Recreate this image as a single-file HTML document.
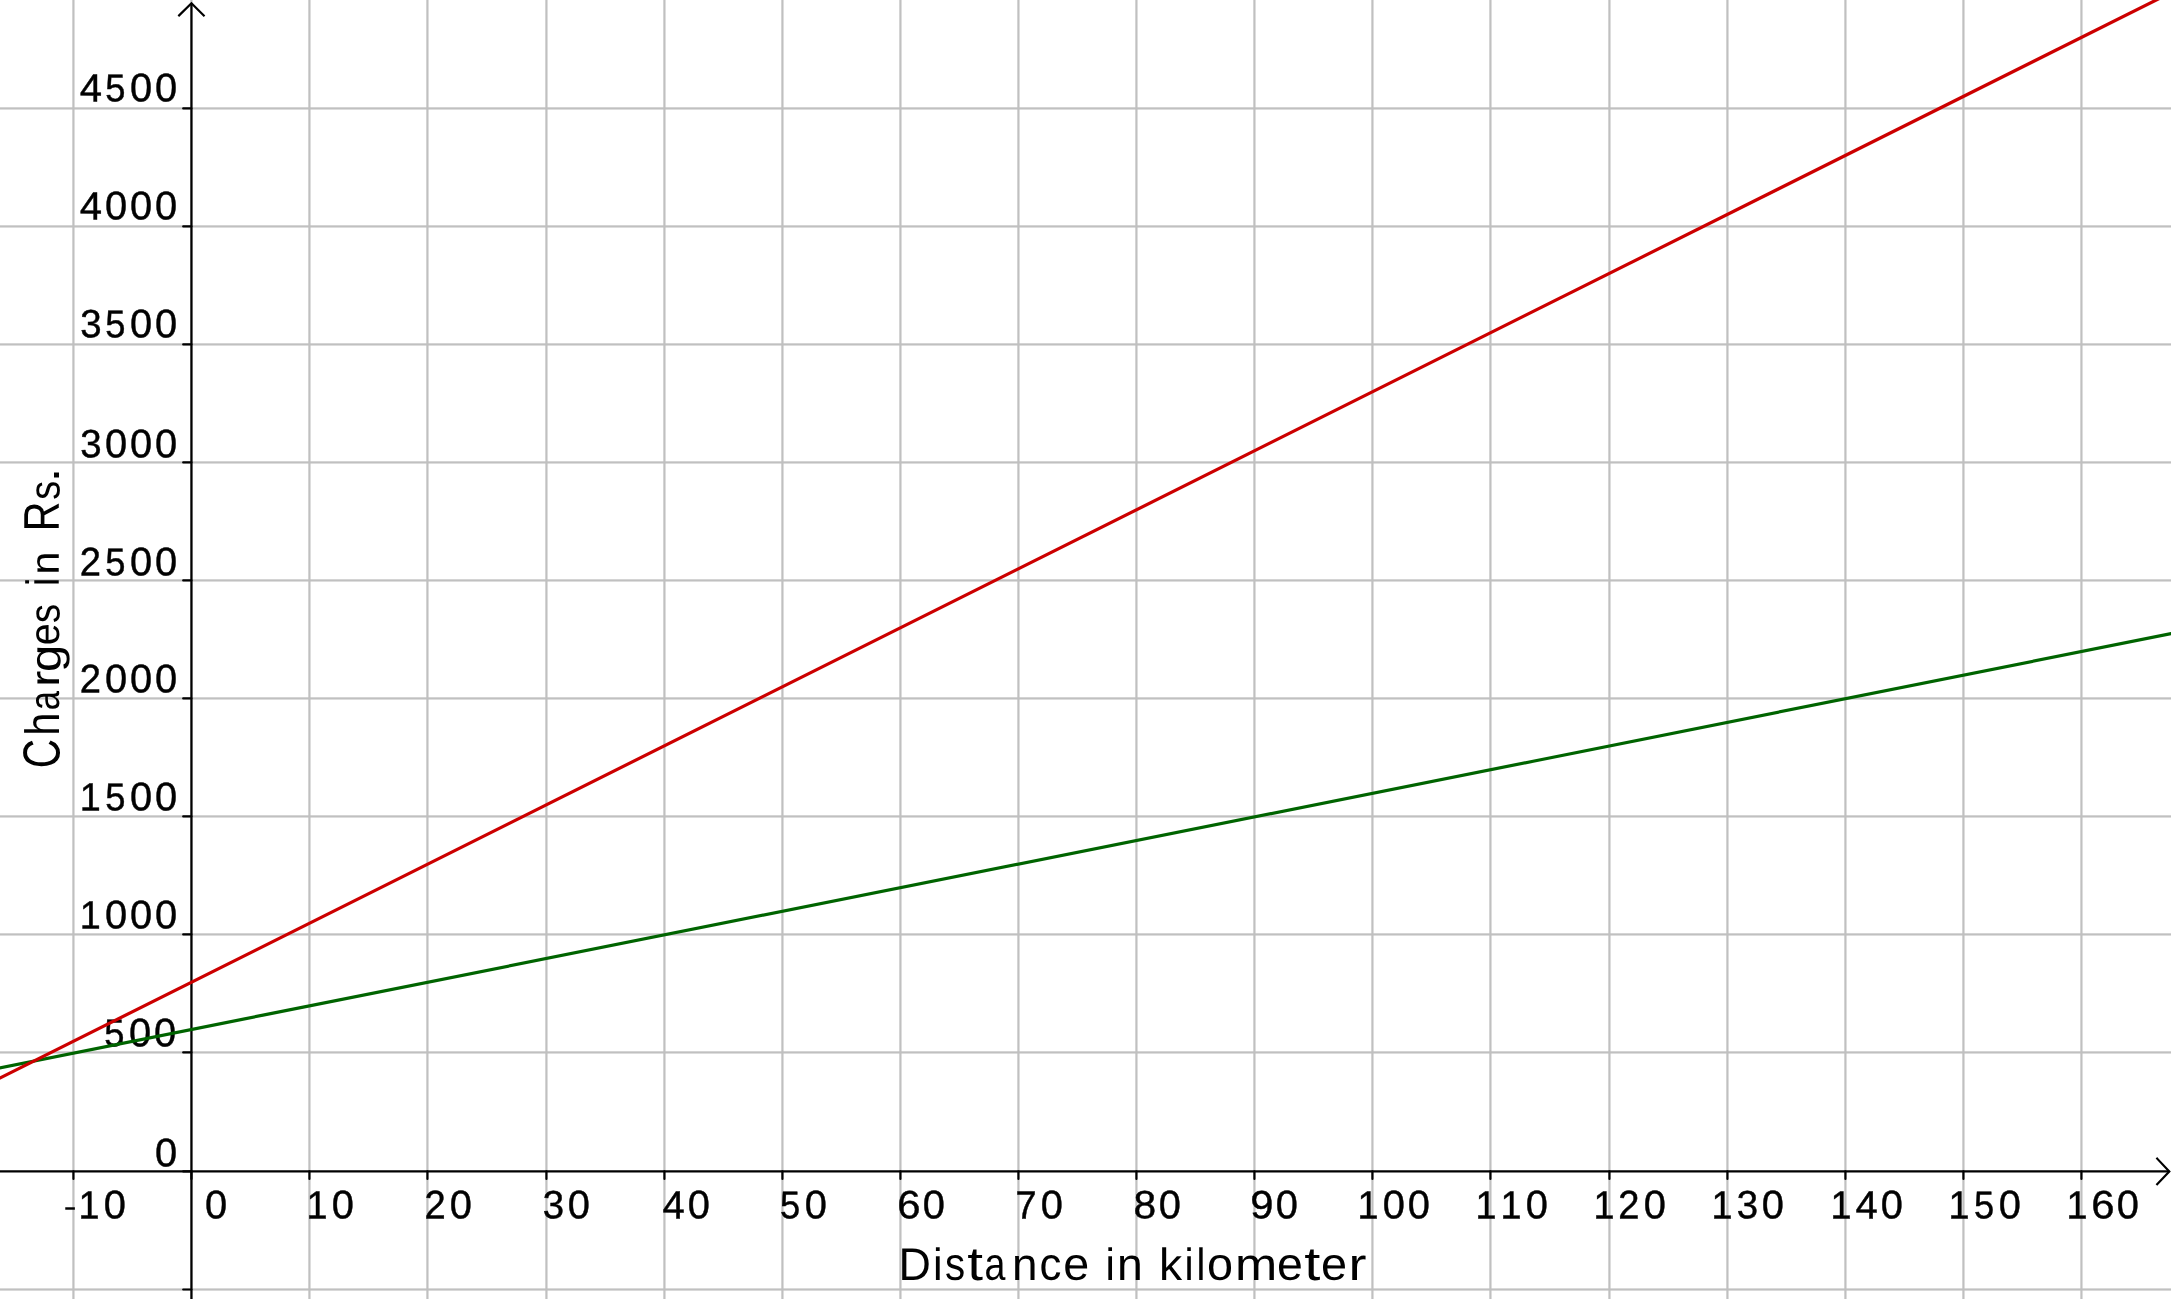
<!DOCTYPE html>
<html><head><meta charset="utf-8"><title>Graph</title>
<style>html,body{margin:0;padding:0;background:#fff;overflow:hidden}svg{display:block}</style>
</head><body>
<svg width="2171" height="1299" viewBox="0 0 2171 1299">
<rect width="2171" height="1299" fill="#fff"/>
<g fill="#c0c0c0">
<rect x="72.33" y="0" width="2.2" height="1299"/>
<rect x="190.33" y="0" width="2.2" height="1299"/>
<rect x="308.33" y="0" width="2.2" height="1299"/>
<rect x="426.33" y="0" width="2.2" height="1299"/>
<rect x="545.33" y="0" width="2.2" height="1299"/>
<rect x="663.33" y="0" width="2.2" height="1299"/>
<rect x="781.33" y="0" width="2.2" height="1299"/>
<rect x="899.33" y="0" width="2.2" height="1299"/>
<rect x="1017.33" y="0" width="2.2" height="1299"/>
<rect x="1135.33" y="0" width="2.2" height="1299"/>
<rect x="1253.33" y="0" width="2.2" height="1299"/>
<rect x="1371.33" y="0" width="2.2" height="1299"/>
<rect x="1489.33" y="0" width="2.2" height="1299"/>
<rect x="1608.33" y="0" width="2.2" height="1299"/>
<rect x="1726.33" y="0" width="2.2" height="1299"/>
<rect x="1844.33" y="0" width="2.2" height="1299"/>
<rect x="1962.33" y="0" width="2.2" height="1299"/>
<rect x="2080.33" y="0" width="2.2" height="1299"/>
<rect x="0" y="107.33" width="2171" height="2.2"/>
<rect x="0" y="225.33" width="2171" height="2.2"/>
<rect x="0" y="343.33" width="2171" height="2.2"/>
<rect x="0" y="461.33" width="2171" height="2.2"/>
<rect x="0" y="579.33" width="2171" height="2.2"/>
<rect x="0" y="697.33" width="2171" height="2.2"/>
<rect x="0" y="815.33" width="2171" height="2.2"/>
<rect x="0" y="933.33" width="2171" height="2.2"/>
<rect x="0" y="1051.33" width="2171" height="2.2"/>
<rect x="0" y="1288.4" width="2171" height="2.2"/>
</g>
<g stroke="#000" stroke-width="2.2" fill="none">
<path d="M191.45 1299 V3"/>
<path d="M179.15 15.4 L191.45 3.2 L203.75 15.4" stroke-linecap="square"/>
<path d="M0 1171.45 H2169.3" stroke-width="2.3"/>
<path d="M2157.2 1158.65 L2169.3 1171.45 L2157.2 1184.25" stroke-linecap="square"/>
<path d="M73.43 1171.45 v7.5 M191.43 1171.45 v7.5 M309.43 1171.45 v7.5 M427.43 1171.45 v7.5 M546.43 1171.45 v7.5 M664.43 1171.45 v7.5 M782.43 1171.45 v7.5 M900.43 1171.45 v7.5 M1018.43 1171.45 v7.5 M1136.43 1171.45 v7.5 M1254.43 1171.45 v7.5 M1372.43 1171.45 v7.5 M1490.43 1171.45 v7.5 M1609.43 1171.45 v7.5 M1727.43 1171.45 v7.5 M1845.43 1171.45 v7.5 M1963.43 1171.45 v7.5 M2081.43 1171.45 v7.5" stroke-linecap="round"/>
<path d="M191.45 108.43 h-8.25 M191.45 226.43 h-8.25 M191.45 344.43 h-8.25 M191.45 462.43 h-8.25 M191.45 580.43 h-8.25 M191.45 698.43 h-8.25 M191.45 816.43 h-8.25 M191.45 934.43 h-8.25 M191.45 1052.43 h-8.25 M191.45 1171.45 h-8.25 M191.45 1289.5 h-8.25" stroke-linecap="round"/>
</g>
<g font-family="'Liberation Sans', sans-serif" font-size="100" fill="#000" opacity="0.999" style="font-kerning:none;text-rendering:geometricPrecision">
<text transform="matrix(0.3781 0.001 0 0.3922 78.55 1218.56)" stroke="#000" stroke-width="1.17">1</text><text transform="matrix(0.3985 0.001 0 0.3980 103.83 1218.17)" stroke="#000" stroke-width="1.13">0</text><text transform="matrix(0.3944 0.001 0 0.3379 63.49 1217.45)">-</text>
<text transform="matrix(0.3985 0.001 0 0.3980 205.10 1218.17)" stroke="#000" stroke-width="1.13">0</text>
<text transform="matrix(0.3781 0.001 0 0.3922 306.49 1218.56)" stroke="#000" stroke-width="1.17">1</text><text transform="matrix(0.3985 0.001 0 0.3980 331.77 1218.17)" stroke="#000" stroke-width="1.13">0</text>
<text transform="matrix(0.3819 0.001 0 0.4014 424.40 1218.56)" stroke="#000" stroke-width="1.15">2</text><text transform="matrix(0.3985 0.001 0 0.3980 449.77 1218.17)" stroke="#000" stroke-width="1.13">0</text>
<text transform="matrix(0.3849 0.001 0 0.3959 542.86 1218.17)" stroke="#000" stroke-width="1.15">3</text><text transform="matrix(0.3985 0.001 0 0.3980 567.77 1218.17)" stroke="#000" stroke-width="1.13">0</text>
<text transform="matrix(0.4003 0.001 0 0.3922 662.45 1218.56)" stroke="#000" stroke-width="1.14">4</text><text transform="matrix(0.3985 0.001 0 0.3980 687.77 1218.17)" stroke="#000" stroke-width="1.13">0</text>
<text transform="matrix(0.3630 0.001 0 0.3867 779.92 1218.18)" stroke="#000" stroke-width="1.20">5</text><text transform="matrix(0.3985 0.001 0 0.3980 804.82 1218.17)" stroke="#000" stroke-width="1.13">0</text>
<text transform="matrix(0.4185 0.001 0 0.3959 897.25 1218.17)" stroke="#000" stroke-width="1.11">6</text><text transform="matrix(0.3985 0.001 0 0.3980 922.82 1218.17)" stroke="#000" stroke-width="1.13">0</text>
<text transform="matrix(0.3786 0.001 0 0.3922 1015.43 1218.56)" stroke="#000" stroke-width="1.17">7</text><text transform="matrix(0.3985 0.001 0 0.3980 1040.82 1218.17)" stroke="#000" stroke-width="1.13">0</text>
<text transform="matrix(0.4073 0.001 0 0.3959 1133.61 1218.17)" stroke="#000" stroke-width="1.12">8</text><text transform="matrix(0.3985 0.001 0 0.3980 1158.82 1218.17)" stroke="#000" stroke-width="1.13">0</text>
<text transform="matrix(0.4180 0.001 0 0.3959 1250.37 1218.17)" stroke="#000" stroke-width="1.11">9</text><text transform="matrix(0.3985 0.001 0 0.3980 1275.77 1218.17)" stroke="#000" stroke-width="1.13">0</text>
<text transform="matrix(0.3781 0.001 0 0.3922 1357.44 1218.56)" stroke="#000" stroke-width="1.17">1</text><text transform="matrix(0.3985 0.001 0 0.3980 1382.72 1218.17)" stroke="#000" stroke-width="1.13">0</text><text transform="matrix(0.3985 0.001 0 0.3980 1407.72 1218.17)" stroke="#000" stroke-width="1.13">0</text>
<text transform="matrix(0.3781 0.001 0 0.3922 1475.44 1218.56)" stroke="#000" stroke-width="1.17">1</text><text transform="matrix(0.3781 0.001 0 0.3922 1500.44 1218.56)" stroke="#000" stroke-width="1.17">1</text><text transform="matrix(0.3985 0.001 0 0.3980 1525.72 1218.17)" stroke="#000" stroke-width="1.13">0</text>
<text transform="matrix(0.3781 0.001 0 0.3922 1593.44 1218.56)" stroke="#000" stroke-width="1.17">1</text><text transform="matrix(0.3819 0.001 0 0.4014 1618.35 1218.56)" stroke="#000" stroke-width="1.15">2</text><text transform="matrix(0.3985 0.001 0 0.3980 1643.72 1218.17)" stroke="#000" stroke-width="1.13">0</text>
<text transform="matrix(0.3781 0.001 0 0.3922 1711.44 1218.56)" stroke="#000" stroke-width="1.17">1</text><text transform="matrix(0.3849 0.001 0 0.3959 1736.81 1218.17)" stroke="#000" stroke-width="1.15">3</text><text transform="matrix(0.3985 0.001 0 0.3980 1761.72 1218.17)" stroke="#000" stroke-width="1.13">0</text>
<text transform="matrix(0.3781 0.001 0 0.3922 1830.50 1218.56)" stroke="#000" stroke-width="1.17">1</text><text transform="matrix(0.4003 0.001 0 0.3922 1855.46 1218.56)" stroke="#000" stroke-width="1.14">4</text><text transform="matrix(0.3985 0.001 0 0.3980 1880.78 1218.17)" stroke="#000" stroke-width="1.13">0</text>
<text transform="matrix(0.3781 0.001 0 0.3922 1948.50 1218.56)" stroke="#000" stroke-width="1.17">1</text><text transform="matrix(0.3630 0.001 0 0.3867 1973.88 1218.18)" stroke="#000" stroke-width="1.20">5</text><text transform="matrix(0.3985 0.001 0 0.3980 1998.78 1218.17)" stroke="#000" stroke-width="1.13">0</text>
<text transform="matrix(0.3781 0.001 0 0.3922 2066.50 1218.56)" stroke="#000" stroke-width="1.17">1</text><text transform="matrix(0.4185 0.001 0 0.3959 2091.21 1218.17)" stroke="#000" stroke-width="1.11">6</text><text transform="matrix(0.3985 0.001 0 0.3980 2116.78 1218.17)" stroke="#000" stroke-width="1.13">0</text>
<text transform="matrix(0.4003 0.001 0 0.3922 79.78 101.54)" stroke="#000" stroke-width="1.14">4</text><text transform="matrix(0.3630 0.001 0 0.3867 105.20 101.16)" stroke="#000" stroke-width="1.20">5</text><text transform="matrix(0.3985 0.001 0 0.3980 130.10 101.15)" stroke="#000" stroke-width="1.13">0</text><text transform="matrix(0.3985 0.001 0 0.3980 155.10 101.15)" stroke="#000" stroke-width="1.13">0</text>
<text transform="matrix(0.4003 0.001 0 0.3922 79.78 219.54)" stroke="#000" stroke-width="1.14">4</text><text transform="matrix(0.3985 0.001 0 0.3980 105.10 219.15)" stroke="#000" stroke-width="1.13">0</text><text transform="matrix(0.3985 0.001 0 0.3980 130.10 219.15)" stroke="#000" stroke-width="1.13">0</text><text transform="matrix(0.3985 0.001 0 0.3980 155.10 219.15)" stroke="#000" stroke-width="1.13">0</text>
<text transform="matrix(0.3849 0.001 0 0.3959 80.19 337.15)" stroke="#000" stroke-width="1.15">3</text><text transform="matrix(0.3630 0.001 0 0.3867 105.20 337.16)" stroke="#000" stroke-width="1.20">5</text><text transform="matrix(0.3985 0.001 0 0.3980 130.10 337.15)" stroke="#000" stroke-width="1.13">0</text><text transform="matrix(0.3985 0.001 0 0.3980 155.10 337.15)" stroke="#000" stroke-width="1.13">0</text>
<text transform="matrix(0.3849 0.001 0 0.3959 80.19 457.16)" stroke="#000" stroke-width="1.15">3</text><text transform="matrix(0.3985 0.001 0 0.3980 105.10 457.16)" stroke="#000" stroke-width="1.13">0</text><text transform="matrix(0.3985 0.001 0 0.3980 130.10 457.16)" stroke="#000" stroke-width="1.13">0</text><text transform="matrix(0.3985 0.001 0 0.3980 155.10 457.16)" stroke="#000" stroke-width="1.13">0</text>
<text transform="matrix(0.3819 0.001 0 0.4014 79.73 575.54)" stroke="#000" stroke-width="1.15">2</text><text transform="matrix(0.3630 0.001 0 0.3867 105.20 575.17)" stroke="#000" stroke-width="1.20">5</text><text transform="matrix(0.3985 0.001 0 0.3980 130.10 575.16)" stroke="#000" stroke-width="1.13">0</text><text transform="matrix(0.3985 0.001 0 0.3980 155.10 575.16)" stroke="#000" stroke-width="1.13">0</text>
<text transform="matrix(0.3819 0.001 0 0.4014 79.73 692.57)" stroke="#000" stroke-width="1.15">2</text><text transform="matrix(0.3985 0.001 0 0.3980 105.10 692.19)" stroke="#000" stroke-width="1.13">0</text><text transform="matrix(0.3985 0.001 0 0.3980 130.10 692.19)" stroke="#000" stroke-width="1.13">0</text><text transform="matrix(0.3985 0.001 0 0.3980 155.10 692.19)" stroke="#000" stroke-width="1.13">0</text>
<text transform="matrix(0.3781 0.001 0 0.3922 79.82 810.57)" stroke="#000" stroke-width="1.17">1</text><text transform="matrix(0.3630 0.001 0 0.3867 105.20 810.20)" stroke="#000" stroke-width="1.20">5</text><text transform="matrix(0.3985 0.001 0 0.3980 130.10 810.19)" stroke="#000" stroke-width="1.13">0</text><text transform="matrix(0.3985 0.001 0 0.3980 155.10 810.19)" stroke="#000" stroke-width="1.13">0</text>
<text transform="matrix(0.3781 0.001 0 0.3922 79.82 928.57)" stroke="#000" stroke-width="1.17">1</text><text transform="matrix(0.3985 0.001 0 0.3980 105.10 928.19)" stroke="#000" stroke-width="1.13">0</text><text transform="matrix(0.3985 0.001 0 0.3980 130.10 928.19)" stroke="#000" stroke-width="1.13">0</text><text transform="matrix(0.3985 0.001 0 0.3980 155.10 928.19)" stroke="#000" stroke-width="1.13">0</text>
<text transform="matrix(0.3630 0.001 0 0.3867 104.17 1046.20)" stroke="#000" stroke-width="1.20">5</text><text transform="matrix(0.3985 0.001 0 0.3980 129.07 1046.19)" stroke="#000" stroke-width="1.13">0</text><text transform="matrix(0.3985 0.001 0 0.3980 154.07 1046.19)" stroke="#000" stroke-width="1.13">0</text>
<text transform="matrix(0.3985 0.001 0 0.3980 155.10 1166.27)" stroke="#000" stroke-width="1.13">0</text>
<text transform="matrix(0.4483 0.001 0 0.4593 898.57 1279.90)">D</text>
<text transform="matrix(0.4324 0.001 0 0.4520 933.11 1279.90)">i</text>
<text transform="matrix(0.4036 0.001 0 0.4612 944.88 1279.85)">s</text>
<text transform="matrix(0.5678 0.001 0 0.4723 967.34 1279.93)">t</text>
<text transform="matrix(0.3757 0.001 0 0.4600 984.60 1279.85)">a</text>
<text transform="matrix(0.4590 0.001 0 0.4553 1011.95 1279.90)">n</text>
<text transform="matrix(0.4384 0.001 0 0.4600 1039.44 1279.85)">c</text>
<text transform="matrix(0.4667 0.001 0 0.4600 1063.22 1279.85)">e</text>
<text transform="matrix(0.4210 0.001 0 0.4520 1105.38 1279.90)">i</text>
<text transform="matrix(0.4637 0.001 0 0.4553 1117.12 1279.90)">n</text>
<text transform="matrix(0.4630 0.001 0 0.4520 1158.98 1279.90)">k</text>
<text transform="matrix(0.4096 0.001 0 0.4520 1184.56 1279.90)">i</text>
<text transform="matrix(0.3982 0.001 0 0.4520 1196.62 1279.90)">l</text>
<text transform="matrix(0.4681 0.001 0 0.4600 1207.03 1279.85)">o</text>
<text transform="matrix(0.5066 0.001 0 0.4553 1234.94 1279.90)">m</text>
<text transform="matrix(0.4646 0.001 0 0.4600 1277.03 1279.85)">e</text>
<text transform="matrix(0.5795 0.001 0 0.4723 1304.22 1279.93)">t</text>
<text transform="matrix(0.4688 0.001 0 0.4600 1320.91 1279.85)">e</text>
<text transform="matrix(0.5400 0.001 0 0.4553 1348.51 1279.90)">r</text>
<text transform="matrix(0.001 -0.4042 0.5226 0 59.49 768.15)">C</text>
<text transform="matrix(0.001 -0.4172 0.4825 0 59.00 735.69)">h</text>
<text transform="matrix(0.001 -0.3465 0.4289 0 59.08 710.37)">a</text>
<text transform="matrix(0.001 -0.4820 0.4089 0 59.00 686.65)">r</text>
<text transform="matrix(0.001 -0.4914 0.4394 0 60.58 671.96)">g</text>
<text transform="matrix(0.001 -0.3932 0.4255 0 59.03 645.37)">e</text>
<text transform="matrix(0.001 -0.3823 0.4336 0 59.41 622.96)">s</text>
<text transform="matrix(0.001 -0.3937 0.4641 0 58.83 586.29)">i</text>
<text transform="matrix(0.001 -0.4103 0.4031 0 58.83 574.45)">n</text>
<text transform="matrix(0.001 -0.4121 0.5022 0 58.83 531.15)">R</text>
<text transform="matrix(0.001 -0.3791 0.4336 0 59.41 499.73)">s</text>
<text transform="matrix(0.001 -0.5251 0.4676 0 59.10 482.29)">.</text>
</g>
<path d="M-44.79 1076.72 L2258.55 616.13" stroke="#006400" stroke-width="3.2" fill="none"/>
<path d="M-44.79 1100.34 L2258.55 -51.13" stroke="#cc0000" stroke-width="3.2" fill="none"/>
</svg>
</body></html>
